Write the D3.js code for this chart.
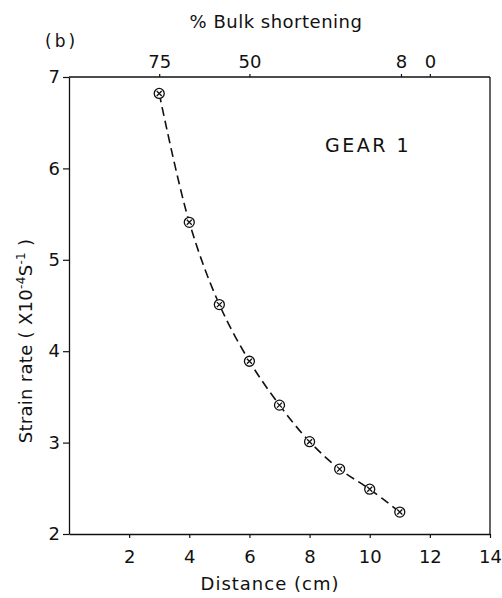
<!DOCTYPE html>
<html>
<head>
<meta charset="utf-8">
<script src="https://cdn.jsdelivr.net/npm/d3@7"></script>
<style>
  body { margin: 0; background: #fff; }
  text { font-family: "DejaVu Sans", sans-serif; fill: #111; }
</style>
</head>
<body>
<svg class="chart"></svg>
<script>
// data
var distance = [3, 4, 5, 6, 7, 8, 9, 10, 11];
var strainRate = [6.82, 5.41, 4.51, 3.89, 3.41, 3.01, 2.71, 2.49, 2.24];
var xTicks = [2, 4, 6, 8, 10, 12, 14];
var yTicks = [2, 3, 4, 5, 6, 7];
var shorteningTicks = [75, 50, 8, 0];

var width = 502, height = 598;
var plotLeft = 69, plotRight = 490, plotTop = 77, plotBottom = 534;

var svg = d3.select(".chart").attr("width", width).attr("height", height);

var x = d3.scaleLinear().domain([0, 14]).range([plotLeft, plotRight]);
var y = d3.scaleLinear().domain([2, 7]).range([plotBottom, plotTop]);
// % bulk shortening: 100% at 0 cm, 0% at 12 cm
var s = d3.scaleLinear().domain([100, 0]).range([x(0), x(12)]);

function styleAxis(g) {
  g.select(".domain").attr("stroke", "#111").attr("stroke-width", 1.3);
  g.selectAll(".tick line").attr("stroke", "#111").attr("stroke-width", 1.2);
  g.selectAll(".tick text").style("font-size", "18px").attr("fill", "#111");
}

// bottom axis
svg.append("g")
   .attr("transform", "translate(0," + plotBottom + ")")
   .call(d3.axisBottom(x).tickValues(xTicks).tickFormat(d3.format("d")).tickSize(4).tickSizeOuter(0).tickPadding(12))
   .call(styleAxis);

// left axis
svg.append("g")
   .attr("transform", "translate(" + plotLeft + ",0)")
   .call(d3.axisLeft(y).tickValues(yTicks).tickFormat(d3.format("d")).tickSize(6).tickSizeOuter(0).tickPadding(3))
   .call(styleAxis);

// top axis
svg.append("g")
   .attr("transform", "translate(0," + plotTop + ")")
   .call(d3.axisTop(s).tickValues(shorteningTicks).tickFormat(d3.format("d")).tickSize(3).tickSizeOuter(0).tickPadding(6))
   .call(styleAxis)
   .select(".domain").attr("d", "M" + plotLeft + ",0H" + plotRight);

// right border
svg.append("line")
   .attr("x1", plotRight).attr("x2", plotRight)
   .attr("y1", plotTop).attr("y2", plotBottom)
   .attr("stroke", "#111").attr("stroke-width", 1.3);

// dashed curve
var line = d3.line()
   .x(function(d, i) { return x(distance[i]); })
   .y(function(d) { return y(d); })
   .curve(d3.curveCatmullRom);

svg.append("path")
   .datum(strainRate)
   .attr("d", line)
   .attr("fill", "none")
   .attr("stroke", "#111")
   .attr("stroke-width", 1.6)
   .attr("stroke-dasharray", "9,5");

// circle-cross markers
var marks = svg.selectAll(".mark")
   .data(strainRate)
   .enter().append("g")
   .attr("class", "mark")
   .attr("transform", function(d, i) { return "translate(" + x(distance[i]) + "," + y(d) + ")"; });

marks.append("circle")
   .attr("r", 5)
   .attr("fill", "#fff")
   .attr("stroke", "#111")
   .attr("stroke-width", 1.3);

marks.append("path")
   .attr("d", "M-2.5,-2.5L2.5,2.5M-2.5,2.5L2.5,-2.5")
   .attr("stroke", "#111")
   .attr("stroke-width", 1.3);

// labels
svg.append("text")
   .attr("x", 276).attr("y", 28)
   .style("text-anchor", "middle")
   .style("font-size", "18px")
   .style("letter-spacing", "0.5px")
   .text("% Bulk shortening");

svg.append("text")
   .attr("x", 45).attr("y", 47)
   .style("font-size", "17px")
   .style("letter-spacing", "3px")
   .text("(b)");

svg.append("text")
   .attr("x", 325).attr("y", 152)
   .style("font-size", "19px")
   .style("letter-spacing", "2.5px")
   .text("GEAR 1");

svg.append("text")
   .attr("x", 270).attr("y", 590)
   .style("text-anchor", "middle")
   .style("font-size", "18px")
   .style("letter-spacing", "1px")
   .text("Distance (cm)");

var yLabel = svg.append("text")
   .attr("transform", "translate(32,341) rotate(-90)")
   .style("text-anchor", "middle")
   .style("font-size", "18px")
   .style("letter-spacing", "0.3px");
yLabel.append("tspan").text("Strain rate ( X10");
yLabel.append("tspan").attr("dy", -7).style("font-size", "12px").text("-4");
yLabel.append("tspan").attr("dy", 7).text("S");
yLabel.append("tspan").attr("dy", -7).style("font-size", "12px").text("-1");
yLabel.append("tspan").attr("dy", 7).text(" )");
</script>
</body>
</html>
